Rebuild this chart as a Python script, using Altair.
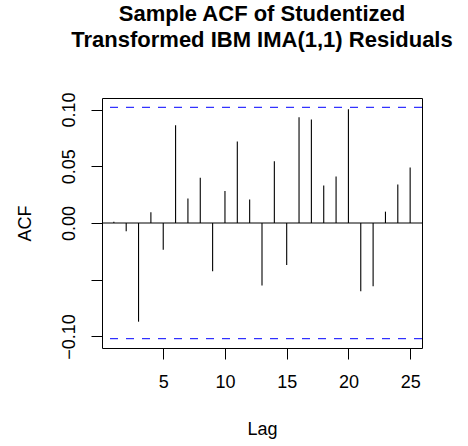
import altair as alt
import pandas as pd

lags = [1, 2, 3, 4, 5, 6, 7, 8, 9, 10, 11, 12, 13, 14, 15, 16, 17, 18, 19, 20, 21, 22, 23, 24, 25]
acf_values = [0.0012, -0.0073, -0.0870, 0.0094, -0.0235, 0.0862, 0.0217, 0.0399, -0.0425,
              0.0282, 0.0718, 0.0208, -0.0551, 0.0545, -0.0370, 0.0933, 0.0912, 0.0331,
              0.0411, 0.1003, -0.0601, -0.0557, 0.0100, 0.0340, 0.0490]
conf_limits = [0.102, -0.102]
x_ticks = [5, 10, 15, 20, 25]
y_ticks = [-0.10, -0.05, 0.00, 0.05, 0.10]
title_lines = ["Sample ACF of Studentized", "Transformed IBM IMA(1,1) Residuals"]

FONT = "Liberation Sans"
x_dom = [0.04, 25.96]
y_dom = [-0.1102, 0.1102]

df = pd.DataFrame({"Lag": lags, "ACF": acf_values, "base": [0.0] * len(lags)})
ci = pd.DataFrame({"ACF": conf_limits})
zero = pd.DataFrame({"ACF": [0.0]})

y_scale = alt.Scale(domain=y_dom, nice=False, zero=False)
y_axis = alt.Axis(values=y_ticks, format=".2f", title="ACF", labelAngle=270,
                  labelAlign="center", labelBaseline="middle", labelPadding=22,
                  labelExpr="abs(datum.value + 0.05) < 1e-9 ? '' : datum.label",
                  titleAngle=270, titleX=-77, titleY=125, titleBaseline="middle",
                  titleAlign="center")

bars = alt.Chart(df).mark_rule(color="black", strokeWidth=1.1).encode(
    x=alt.X("Lag:Q", scale=alt.Scale(domain=x_dom, nice=False, zero=False),
            axis=alt.Axis(values=x_ticks, format="d", title="Lag", labelPadding=14,
                          titleX=160, titleY=81, titleBaseline="middle")),
    y=alt.Y("ACF:Q", scale=y_scale, axis=y_axis, title="ACF"),
    y2="base:Q",
)

zero_line = alt.Chart(zero).mark_rule(color="black", strokeWidth=1).encode(
    y=alt.Y("ACF:Q", scale=y_scale, axis=y_axis, title="ACF"),
)

ci_lines = alt.Chart(ci).mark_rule(color="#0000FF", strokeWidth=1, strokeDash=[8, 8]).encode(
    y=alt.Y("ACF:Q", scale=y_scale, axis=y_axis, title="ACF"),
)

chart = alt.layer(bars, zero_line, ci_lines).properties(
    width=320,
    height=250,
    autosize="none",
    padding={"left": 102, "top": 98, "right": 46, "bottom": 98},
    background="white",
    title=alt.TitleParams(text=title_lines, font=FONT, fontSize=22, fontWeight="bold",
                          color="black", anchor="middle", lineHeight=26, offset=40),
).configure_view(
    stroke="black", strokeWidth=1
).configure_axis(
    domain=False, grid=False, tickColor="black", tickSize=11, tickWidth=1,
    labelFont=FONT, labelFontSize=18, labelColor="black",
    titleFont=FONT, titleFontSize=18, titleFontWeight="normal", titleColor="black",
)

chart.save("out.html", embed_options={"renderer": "svg", "actions": False})
